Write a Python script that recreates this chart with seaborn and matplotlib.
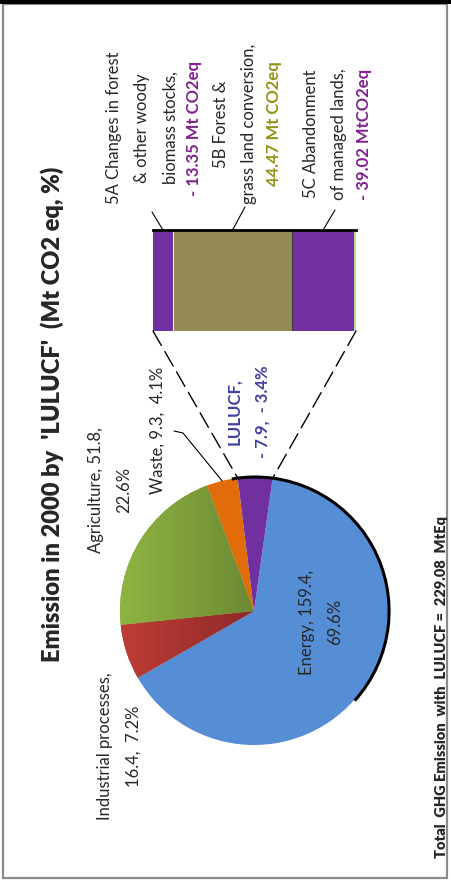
import numpy as np
import matplotlib
matplotlib.use("Agg")
import matplotlib.pyplot as plt
import seaborn as sns
from matplotlib.patches import Arc, ConnectionPatch, Rectangle
from matplotlib.colors import LinearSegmentedColormap

sns.set_theme(style="white")
plt.rcParams['font.family'] = ['Lato', 'DejaVu Sans']

# ---------------- data ----------------
sectors = ["Energy", "Industrial processes", "Agriculture", "Waste", "LULUCF"]
sector_values = [159.4, 16.4, 51.8, 9.3, -7.9]
sector_pct = [69.6, 7.2, 22.6, 4.1, -3.4]
pie_slice_sizes = [159.4, 16.4, 51.8, 9.3, 10.3]   # LULUCF slice size as drawn
pie_colors = ["#558ED5", "#B0403B", "#86AB3E", "#E36C0A", "#7030A0"]

lulucf_parts = ["5A Changes in forest\n& other woody\nbiomass stocks,",
                "5B Forest &\ngrass land conversion,",
                "5C Abandonment\nof managed lands,"]
lulucf_values = [-13.35, 44.47, -39.02]
lulucf_value_text = ["- 13.35 Mt CO2eq", "44.47 Mt CO2eq", "- 39.02 MtCO2eq"]
lulucf_value_colors = ["#80208F", "#929214", "#80208F"]
bar_sizes = [9.9, 59.2, 30.7, 1.0]                  # segment widths as drawn
bar_colors = ["#7030A0", "#948A54", "#7030A0", "#C3D69B"]
total_with_lulucf = 229.08

title = "Emission in 2000 by  'LULUCF'  (Mt CO2 eq, %)"

# ---------------- layout ----------------
W, H = 451, 883
fig = plt.figure(figsize=(W / 100, H / 100), dpi=100)
fig.patch.set_facecolor("white")

CX, CY, R = 254, 611, 134
PAD = 1.08
ax_pie = fig.add_axes([(CX - R * PAD) / W, (H - CY - R * PAD) / H, 2 * R * PAD / W, 2 * R * PAD / H])
wedges, _ = ax_pie.pie(pie_slice_sizes, colors=pie_colors, startangle=82, counterclock=False,
                       radius=1, wedgeprops=dict(linewidth=0))
ax_pie.axis("off")

# gradient shading for industrial & agriculture slices
grad_specs = {1: ("#C03C37", "#8C2A28"), 2: ("#8FB441", "#6C8934")}
for idx, (c1, c2) in grad_specs.items():
    cmap = LinearSegmentedColormap.from_list("g%d" % idx, [c1, c2])
    img = np.tile(np.linspace(0, 1, 256), (2, 1))
    im = ax_pie.imshow(img, cmap=cmap, extent=[-1, 0, -1, 1], aspect="auto", zorder=2)
    im.set_clip_path(wedges[idx])
ax_pie.set_xlim(-PAD, PAD)
ax_pie.set_ylim(-PAD, PAD)

# shadow-like dark rim on right side
ax_pie.add_patch(Arc((0.008, 0), 2.0, 2.0, theta1=-42, theta2=100, lw=2.2, color="black", zorder=3))

# bar of LULUCF components
BX0, BX1, BY0, BY1 = 153, 356, 230, 331
ax_bar = fig.add_axes([BX0 / W, (H - BY1) / H, (BX1 - BX0) / W, (BY1 - BY0) / H])
lefts = np.concatenate([[0], np.cumsum(bar_sizes)[:-1]])
ax_bar.barh(0, bar_sizes, left=lefts, height=1, color=bar_colors, linewidth=0)
bar_total = float(np.sum(bar_sizes))
ax_bar.set_xlim(0, bar_total)
ax_bar.set_ylim(-0.5, 0.5)
ax_bar.set_xticks([]); ax_bar.set_yticks([])
for s in ["left", "right", "bottom"]:
    ax_bar.spines[s].set_visible(False)
ax_bar.spines["top"].set_color("black")
ax_bar.spines["top"].set_linewidth(2)
ax_bar.patch.set_alpha(0)
# thin separators between segments
ax_bar.vlines(lefts[1], -0.5, 0.5, color="#F0F0F0", lw=0.8)
ax_bar.vlines(lefts[2], -0.5, 0.5, color="#404040", lw=0.8)

# dashed connectors from LULUCF wedge to bar
lw_wedge = wedges[4]
tA, tB = np.deg2rad(lw_wedge.theta1), np.deg2rad(lw_wedge.theta2)
for xb, th in [(0, tB), (bar_total, tA)]:
    con = ConnectionPatch(xyA=(xb, -0.5), coordsA=ax_bar.transData,
                          xyB=(np.cos(th), np.sin(th)), coordsB=ax_pie.transData,
                          color="black", lw=1.0, linestyle=(0, (12, 5)))
    fig.add_artist(con)

# ---------------- overlay axes (pixel coords) ----------------
ax0 = fig.add_axes([0, 0, 1, 1], zorder=10)
ax0.set_xlim(0, W)
ax0.set_ylim(H, 0)
ax0.axis("off")

# frame and top band
ax0.add_patch(Rectangle((3, 4), 444, 874, fill=False, edgecolor="#8C8C8C", lw=1.6))
ax0.add_patch(Rectangle((0, 0), W, 3.5, color="black", lw=0))

ax0.text(52, 414, title, rotation=90, ha="center", va="center", fontsize=17, fontweight="heavy")
ax0.text(442, 687, "Total  GHG Emission  with  LULUCF =  %.2f  MtEq" % total_with_lulucf,
         rotation=90, ha="center", va="center", fontsize=10.5, fontweight="heavy")

lab_fs = 12
LS = 1.95
ax0.text(321, 622, "%s, %.1f,\n%.1f%%" % (sectors[0], sector_values[0], sector_pct[0]),
         rotation=90, ha="center", va="center", fontsize=lab_fs, multialignment="center", linespacing=LS)
ax0.text(119, 746, "%s,\n%.1f,  %.1f%%" % (sectors[1], sector_values[1], sector_pct[1]),
         rotation=90, ha="center", va="center", fontsize=lab_fs, multialignment="center", linespacing=LS)
ax0.text(110, 490, "%s, %.1f,\n%.1f%%" % (sectors[2], sector_values[2], sector_pct[2]),
         rotation=90, ha="center", va="center", fontsize=lab_fs, multialignment="center", linespacing=LS)
ax0.text(158, 430, "%s, %.1f,  %.1f%%" % (sectors[3], sector_values[3], sector_pct[3]),
         rotation=90, ha="center", va="center", fontsize=lab_fs)
ax0.text(248, 412, "%s,\n- %.1f,  - %.1f%%" % (sectors[4], abs(sector_values[4]), abs(sector_pct[4])),
         rotation=90, ha="center", va="center", fontsize=lab_fs, fontweight="bold",
         color="#4040A0", multialignment="center", linespacing=LS)

# waste leader line
w = wedges[3]
am = np.deg2rad((w.theta1 + w.theta2) / 2)
ax0.plot([CX + R * np.cos(am), 183, 174], [CY - R * np.sin(am), 433, 431], color="black", lw=0.8)

# bar labels
label_x = [(142, 194), (235, 274), (325, 364)]
label_y = [128, 124, 134]
leader_start = [(152, 212), (245, 207), (335, 210)]
for i in range(3):
    xt, xv = label_x[i]
    ax0.text(xt, label_y[i], lulucf_parts[i], rotation=90, ha="center", va="center",
             fontsize=lab_fs, multialignment="center", linespacing=LS)
    ax0.text(xv, label_y[i], lulucf_value_text[i], rotation=90, ha="center", va="center",
             fontsize=lab_fs, fontweight="bold", color=lulucf_value_colors[i])
    mid = BX0 + (lefts[i] + bar_sizes[i] / 2) / bar_total * (BX1 - BX0)
    sx, sy = leader_start[i]
    ax0.plot([sx, mid], [sy, BY0], color="black", lw=0.8)

fig.savefig("out.png", dpi=100, facecolor="white")
